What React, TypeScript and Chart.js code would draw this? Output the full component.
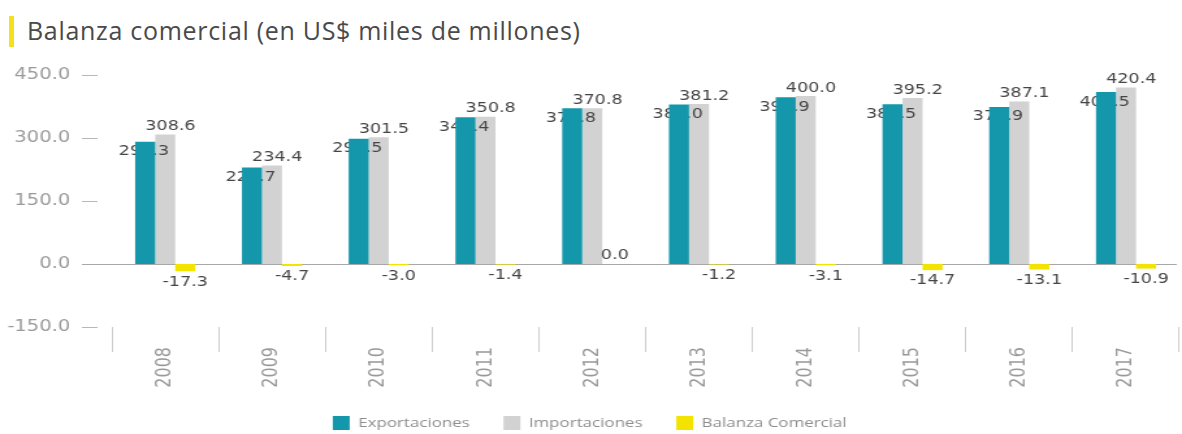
import React, { useEffect, useRef } from "react";
import { Chart, registerables } from "chart.js";

Chart.register(...registerables);

// ---- data ----
const years = ["2008", "2009", "2010", "2011", "2012", "2013", "2014", "2015", "2016", "2017"];
const exportaciones = [291.3, 229.7, 298.5, 349.4, 370.8, 380.0, 396.9, 380.5, 373.9, 409.5];
const importaciones = [308.6, 234.4, 301.5, 350.8, 370.8, 381.2, 400.0, 395.2, 387.1, 420.4];
const balanza = [-17.3, -4.7, -3.0, -1.4, 0.0, -1.2, -3.1, -14.7, -13.1, -10.9];
const seriesNames = ["Exportaciones", "Importaciones", "Balanza Comercial"];
const yMin = -150;
const yMax = 450;
const yStep = 150;
const titleText = "Balanza comercial (en US$ miles de millones)";

// ---- styling ----
const W = 1182;
const H = 434;
const CW = 909; // chart drawn narrower, then stretched horizontally like the reference
const SX = W / CW;
const COLORS = ["#1597ab", "#d2d2d2", "#f2e400"];
const LABEL_FONT = '13.5px "DejaVu Sans"';
const LABEL_COLOR = "#454545";
const PLOT_TOP = 75;
const PLOT_BOTTOM = 327;
const PAD_BOTTOM = -6;

const fmt = (v: number) => v.toFixed(1);

export default function App() {
  const ref = useRef<HTMLCanvasElement | null>(null);

  useEffect(() => {
    const canvas = ref.current;
    if (!canvas) return;

    const decor = {
      id: "decor",
      beforeDatasetsDraw(chart: any) {
        const { ctx, chartArea, scales } = chart;
        const y = scales.y;
        ctx.save();
        ctx.lineWidth = 1;
        ctx.strokeStyle = "#b8b8b8";
        y.ticks.forEach((t: any) => {
          if (t.value === 0) return;
          const py = Math.round(y.getPixelForValue(t.value)) + 0.5;
          ctx.beginPath();
          ctx.moveTo(63, py);
          ctx.lineTo(75, py);
          ctx.stroke();
        });
        const z = Math.round(y.getPixelForValue(0)) + 0.5;
        ctx.strokeStyle = "#a8a8a8";
        ctx.beginPath();
        ctx.moveTo(63, z);
        ctx.lineTo(chartArea.right - 2, z);
        ctx.stroke();
        ctx.restore();
      },
      beforeDatasetDraw(chart: any, args: any) {
        if (args.index !== 0) return;
        const { ctx } = chart;
        const meta = chart.getDatasetMeta(0);
        ctx.save();
        ctx.font = LABEL_FONT;
        ctx.fillStyle = LABEL_COLOR;
        ctx.textAlign = "center";
        ctx.textBaseline = "middle";
        meta.data.forEach((el: any, i: number) => {
          ctx.fillText(fmt(exportaciones[i]), el.x - 1, el.y + 10);
        });
        ctx.restore();
      },
      afterDatasetsDraw(chart: any) {
        const { ctx } = chart;
        ctx.save();
        ctx.font = LABEL_FONT;
        ctx.fillStyle = LABEL_COLOR;
        ctx.textAlign = "center";
        const m1 = chart.getDatasetMeta(1);
        ctx.textBaseline = "bottom";
        m1.data.forEach((el: any, i: number) => {
          ctx.fillText(fmt(importaciones[i]), el.x + 4, el.y - 1);
        });
        const m2 = chart.getDatasetMeta(2);
        m2.data.forEach((el: any, i: number) => {
          const v = balanza[i];
          if (v < 0) {
            ctx.textBaseline = "top";
            ctx.fillText(fmt(v), el.x, el.y + 4);
          } else {
            ctx.textBaseline = "bottom";
            ctx.fillText(fmt(v), el.x + 2, el.y - 2);
          }
        });
        ctx.restore();
      },
    };

    const chart = new Chart(canvas, {
      type: "bar",
      data: {
        labels: years,
        datasets: [
          { label: seriesNames[0], data: exportaciones, backgroundColor: COLORS[0], borderWidth: 0 },
          { label: seriesNames[1], data: importaciones, backgroundColor: COLORS[1], borderWidth: 0 },
          { label: seriesNames[2], data: balanza, backgroundColor: COLORS[2], borderWidth: 0 },
        ],
      },
      options: {
        responsive: false,
        animation: false,
        devicePixelRatio: 1,
        datasets: { bar: { categoryPercentage: 0.563, barPercentage: 1.0 } },
        layout: { padding: { top: PLOT_TOP, left: 0, right: 2, bottom: PAD_BOTTOM } },
        plugins: {
          tooltip: { enabled: false },
          title: { display: false },
          legend: {
            display: true,
            position: "bottom",
            labels: {
              boxWidth: 13,
              boxHeight: 14,
              padding: 26,
              color: "#8e8e8e",
              font: { family: "Open Sans", size: 13 },
            },
          },
        },
        scales: {
          x: {
            offset: true,
            grid: {
              display: true,
              offset: true,
              drawOnChartArea: false,
              drawTicks: true,
              tickLength: 25,
              color: "#cdcdcd",
            },
            border: { display: false },
            ticks: {
              autoSkip: false,
              minRotation: 90,
              maxRotation: 90,
              padding: -5,
              color: "#999999",
              font: { family: "DejaVu Sans", size: 16 },
            },
            afterFit: (s: any) => {
              const lh = s.chart.legend ? s.chart.legend.height : 0;
              s.height = H - PAD_BOTTOM - PLOT_BOTTOM - lh;
            },
          },
          y: {
            min: yMin,
            max: yMax,
            grid: { display: false },
            border: { display: false },
            ticks: {
              stepSize: yStep,
              padding: 24,
              color: "#9a9a9a",
              font: { family: "DejaVu Sans", size: 15 },
              callback: (v: any) => fmt(Number(v)),
            },
            afterFit: (s: any) => {
              s.width = 86;
            },
          },
        },
      },
      plugins: [decor],
    });

    return () => chart.destroy();
  }, []);

  return (
    <div
      style={{
        position: "absolute",
        left: 0,
        top: 0,
        width: W,
        height: H,
        overflow: "hidden",
        background: "#ffffff",
      }}
    >
      <div
        style={{
          position: "absolute",
          left: 9,
          top: 16,
          width: 5,
          height: 31,
          background: "#f3e21a",
        }}
      />
      <div
        style={{
          position: "absolute",
          left: 27,
          top: 13,
          fontFamily: '"Open Sans", sans-serif',
          fontSize: 25,
          lineHeight: "34px",
          letterSpacing: "0.7px",
          color: "#4a4a4a",
          whiteSpace: "nowrap",
        }}
      >
        {titleText}
      </div>
      <div
        style={{
          position: "absolute",
          left: 0,
          top: 0,
          width: CW,
          height: H,
          transform: `scaleX(${SX})`,
          transformOrigin: "0 0",
        }}
      >
        <canvas ref={ref} width={CW} height={H} style={{ display: "block", width: CW, height: H }} />
      </div>
    </div>
  );
}
